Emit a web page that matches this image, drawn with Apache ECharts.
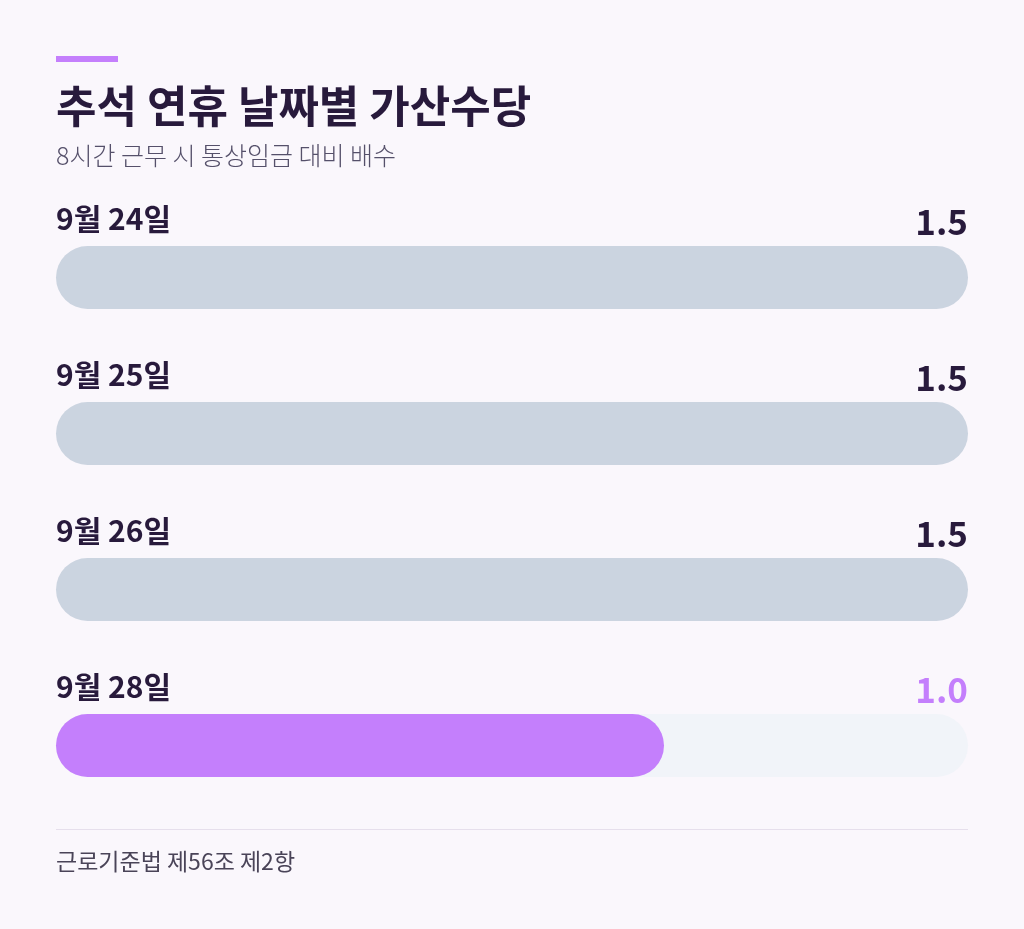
<!DOCTYPE html>
<html>
<head>
<meta charset="utf-8">
<script src="https://cdn.jsdelivr.net/npm/echarts@6/dist/echarts.min.js"></script>
<style>
  html, body { margin: 0; padding: 0; background: #faf7fc; }
  #chart { width: 1024px; height: 929px; }
</style>
</head>
<body>
<div id="chart"></div>
<script>
// 추석 연휴 날짜별 가산수당
const days = ['9월 24일', '9월 25일', '9월 26일', '9월 28일'];
const multipliers = [1.5, 1.5, 1.5, 1.0];
const highlight = [false, false, false, true];
const scaleMax = 1.5;

const FONT = '"Noto Sans CJK KR", "Noto Sans", sans-serif';
const DARK = '#281a3c';
const PURPLE = '#c47ffc';

const chart = echarts.init(document.getElementById('chart'));

const trackData = days.map((d, i) => ({
  value: scaleMax,
  itemStyle: { color: highlight[i] ? '#f1f4f9' : '#cbd4e0' },
  label: {
    formatter: multipliers[i].toFixed(1),
    color: highlight[i] ? PURPLE : DARK
  }
}));

const fillData = multipliers.map((v, i) => ({
  value: highlight[i] ? v : 0,
  itemStyle: { color: PURPLE }
}));

chart.setOption({
  backgroundColor: '#faf7fc',
  animation: false,
  grid: { left: 56, right: 56, top: 199.5, bottom: 105.5, containLabel: false },
  xAxis: { type: 'value', min: 0, max: scaleMax, show: false },
  yAxis: { type: 'category', data: days, inverse: true, show: false },
  series: [
    {
      type: 'bar',
      data: trackData,
      barWidth: 63,
      itemStyle: { borderRadius: 31.5 },
      label: {
        show: true,
        position: ['100%', -24],
        align: 'right',
        verticalAlign: 'middle',
        fontFamily: FONT,
        fontSize: 35,
        fontWeight: 'bold'
      },
      silent: true
    },
    {
      type: 'bar',
      data: fillData,
      barWidth: 63,
      barGap: '-100%',
      itemStyle: { borderRadius: 31.5 },
      label: {
        show: true,
        position: [0, -27],
        align: 'left',
        verticalAlign: 'middle',
        formatter: p => days[p.dataIndex],
        fontFamily: FONT,
        fontSize: 30,
        fontWeight: 'bold',
        color: DARK
      },
      silent: true
    }
  ],
  graphic: [
    { type: 'rect', shape: { x: 56, y: 56, width: 62, height: 6 }, style: { fill: PURPLE } },
    {
      type: 'text', x: 56, y: 106,
      style: { text: '추석 연휴 날짜별 가산수당', font: 'bold 44px ' + FONT, fill: DARK, verticalAlign: 'middle' }
    },
    {
      type: 'text', x: 56, y: 155,
      style: { text: '8시간 근무 시 통상임금 대비 배수', font: '300 25px ' + FONT, fill: '#55506a', verticalAlign: 'middle' }
    },
    { type: 'rect', shape: { x: 56, y: 829, width: 912, height: 1 }, style: { fill: '#e6dfec' } },
    {
      type: 'text', x: 56, y: 861,
      style: { text: '근로기준법 제56조 제2항', font: '23px ' + FONT, fill: '#4a4458', verticalAlign: 'middle' }
    }
  ]
});
</script>
</body>
</html>
